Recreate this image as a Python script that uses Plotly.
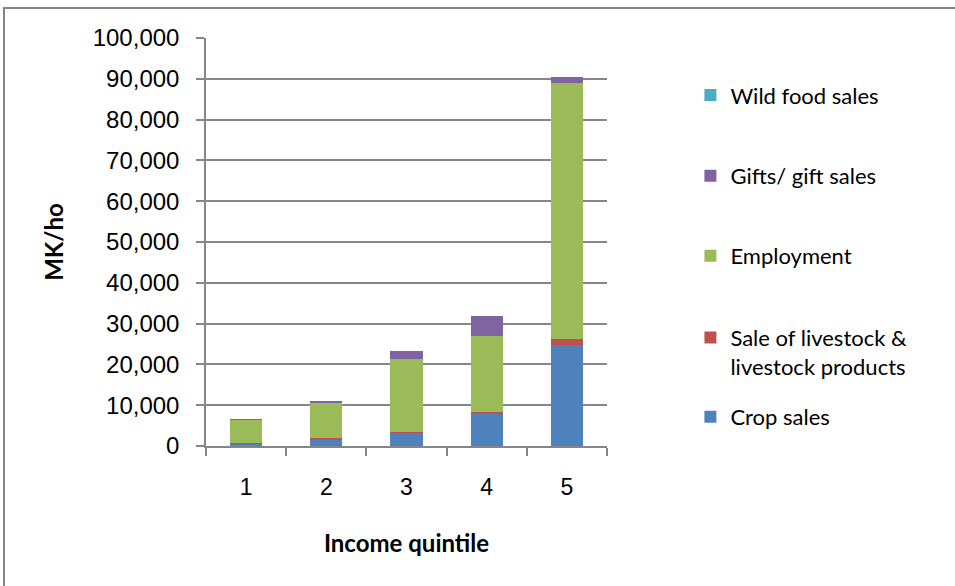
import plotly.graph_objects as go

quintiles = ["1", "2", "3", "4", "5"]
crop_sales = [560, 1650, 3260, 7900, 24750]
livestock_sales = [250, 300, 250, 400, 1470]
employment = [5600, 8600, 17800, 18700, 62750]
gifts = [150, 250, 2000, 4900, 1470]
wild_food = [0, 0, 0, 0, 0]

series = [
    ("Crop sales", crop_sales, "#4F81BD", "legend5", 0.071, "middle"),
    ("Sale of livestock &<br>livestock products", livestock_sales, "#C0504D", "legend4", 0.230, "top"),
    ("Employment", employment, "#9BBB59", "legend3", 0.466, "middle"),
    ("Gifts/ gift sales", gifts, "#8064A2", "legend2", 0.662, "middle"),
    ("Wild food sales", wild_food, "#4BACC6", "legend", 0.860, "middle"),
]

fig = go.Figure()
legend_font = dict(family="Lato, Liberation Sans, sans-serif", size=22, color="#000000")
for name, vals, color, leg, ly, va in series:
    fig.add_trace(go.Bar(x=quintiles, y=vals, name=name, marker=dict(color=color, line=dict(width=0)),
                         legend=leg))
    fig.layout[leg] = dict(x=1.208, y=ly, xanchor="left", yanchor="middle", valign=va,
                           font=legend_font, bgcolor="rgba(0,0,0,0)", borderwidth=0)

grid = "#868686"
fig.update_layout(
    barmode="stack",
    bargap=0.6,
    width=955, height=586,
    margin=dict(l=206, r=348, t=38, b=140),
    paper_bgcolor="white", plot_bgcolor="white",
    showlegend=True,
    xaxis=dict(
        type="category",
        showline=True, linecolor=grid, linewidth=1.5,
        ticks="outside", ticklen=8, tickcolor=grid, tickwidth=1.5,
        tickson="boundaries",
        tickfont=dict(family="Liberation Sans, Arial, sans-serif", size=23, color="#000000"),
        ticklabelstandoff=20,
        title=dict(text="<b>Income quintile</b>", standoff=36,
                   font=dict(family="Lato, Liberation Sans, sans-serif", size=24, color="#000000")),
        showgrid=False,
    ),
    yaxis=dict(
        range=[0, 100000], dtick=10000, tickformat=",d",
        showline=True, linecolor=grid, linewidth=1.5,
        ticks="outside", ticklen=8, tickcolor=grid, tickwidth=1.5,
        showgrid=True, gridcolor=grid, gridwidth=1.5,
        zeroline=False,
        tickfont=dict(family="Liberation Sans, Arial, sans-serif", size=24, color="#000000"),
        ticklabelstandoff=12,
        title=dict(text="<b>MK/ho</b>", standoff=22,
                   font=dict(family="Lato, Liberation Sans, sans-serif", size=24, color="#000000")),
    ),
    shapes=[dict(type="rect", xref="paper", yref="paper",
                 x0=(4 - 206) / 401, x1=2.0, y0=-1.0, y1=(446 - 8) / 408,
                 line=dict(color=grid, width=2), fillcolor="rgba(0,0,0,0)", layer="below")],
)

fig.write_html("out.html")
